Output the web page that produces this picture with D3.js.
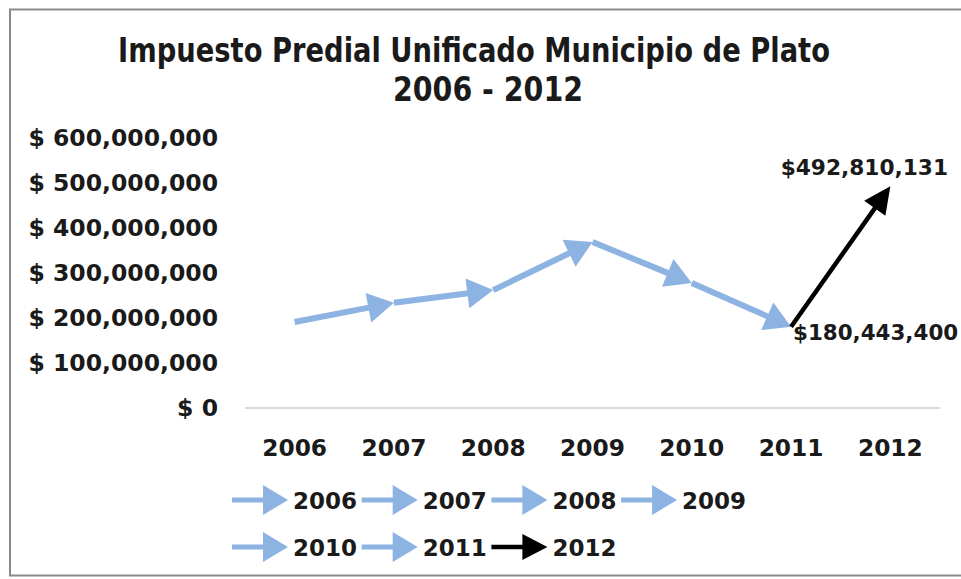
<!DOCTYPE html>
<html>
<head>
<meta charset="utf-8">
<script src="https://cdn.jsdelivr.net/npm/d3@7"></script>
<style>
  html, body { margin: 0; padding: 0; background: #ffffff; }
  svg { display: block; }
</style>
</head>
<body>
<svg id="chart" width="961" height="579"></svg>
<script>
// ---- data ----
const years = ["2006", "2007", "2008", "2009", "2010", "2011", "2012"];
const values = [191000000, 234000000, 262000000, 369000000, 278000000, 180443400, 492810131];
const yTickValues = [0, 100000000, 200000000, 300000000, 400000000, 500000000, 600000000];
const seriesColors = ["#8DB3E2", "#8DB3E2", "#8DB3E2", "#8DB3E2", "#8DB3E2", "#8DB3E2", "#000000"];
const titleLines = ["Impuesto Predial Unificado Municipio de Plato", "2006 - 2012"];
const labelledYears = ["2011", "2012"];

// ---- layout ----
const svg = d3.select("#chart");
const W = 961, H = 579;
const plot = { left: 245, right: 940, top: 138, bottom: 408 };
const boldFont = "'DejaVu Sans', Verdana, sans-serif";
const titleFont = "'Liberation Sans Narrow', 'DejaVu Sans Condensed', 'Liberation Sans', sans-serif";

svg.append("rect").attr("width", W).attr("height", H).attr("fill", "#ffffff");
// chart frame
svg.append("rect")
  .attr("x", 10).attr("y", 9.5).attr("width", 960).attr("height", 566)
  .attr("fill", "#ffffff").attr("stroke", "#8a8a8a").attr("stroke-width", 2);

// title
const titleCfg = [
  { cx: 474, y: 62, len: 712 },
  { cx: 488, y: 101, len: 190 }
];
titleLines.forEach((t, i) => {
  svg.append("text")
    .attr("x", titleCfg[i].cx).attr("y", titleCfg[i].y)
    .attr("text-anchor", "middle")
    .attr("font-family", titleFont).attr("font-weight", "bold")
    .attr("font-size", 33).attr("fill", "#1a1a1a")
    .attr("textLength", titleCfg[i].len).attr("lengthAdjust", "spacingAndGlyphs")
    .text(t);
});

// scales
const x = d3.scaleBand().domain(years).range([plot.left, plot.right]);
const y = d3.scaleLinear().domain([0, 600000000]).range([plot.bottom, plot.top]);
const cx = d => x(d) + x.bandwidth() / 2;

// y axis
const yAxis = d3.axisLeft(y).tickValues(yTickValues).tickSize(0).tickPadding(27)
  .tickFormat(d => "$ " + d3.format(",")(d));
const gy = svg.append("g").attr("transform", `translate(${plot.left},0)`).call(yAxis);
gy.select(".domain").remove();
gy.selectAll("text").attr("font-family", boldFont).attr("font-weight", "bold")
  .attr("font-size", 23.5).attr("fill", "#1a1a1a");

// x axis
const xAxis = d3.axisBottom(x).tickSize(0).tickPadding(31);
const gx = svg.append("g").attr("transform", `translate(0,${plot.bottom})`).call(xAxis);
gx.select(".domain").remove();
gx.selectAll("text").attr("font-family", boldFont).attr("font-weight", "bold")
  .attr("font-size", 23.3).attr("fill", "#1a1a1a");

svg.append("line")
  .attr("x1", plot.left).attr("x2", plot.right)
  .attr("y1", y(0)).attr("y2", y(0))
  .attr("stroke", "#D9D9D9").attr("stroke-width", 2);

// arrow helper
function arrow(g, x1, y1, x2, y2, color, sw, L, hw) {
  const dx = x2 - x1, dy = y2 - y1;
  const len = Math.sqrt(dx * dx + dy * dy);
  const ux = dx / len, uy = dy / len;
  const nx = -uy, ny = ux;
  const bx = x2 - ux * L, by = y2 - uy * L;
  g.append("line")
    .attr("x1", x1).attr("y1", y1)
    .attr("x2", bx + ux * 3).attr("y2", by + uy * 3)
    .attr("stroke", color).attr("stroke-width", sw);
  g.append("polygon")
    .attr("points", [[x2, y2], [bx + nx * hw, by + ny * hw], [bx - nx * hw, by - ny * hw]]
      .map(p => p.join(",")).join(" "))
    .attr("fill", color);
}

// series segments: each year's series ends with an arrowhead at its point
const gLines = svg.append("g");
years.forEach((yr, i) => {
  if (i === 0) return;
  const black = seriesColors[i] === "#000000";
  arrow(gLines, cx(years[i - 1]), y(values[i - 1]), cx(yr), y(values[i]),
    seriesColors[i], black ? 4.5 : 6, black ? 27 : 26, black ? 13 : 15);
});

// data labels
const fmt = v => "$" + d3.format(",")(v);
const i11 = years.indexOf(labelledYears[0]);
const i12 = years.indexOf(labelledYears[1]);
svg.append("text")
  .attr("x", cx(years[i12]) - 26).attr("y", y(values[i12]) - 11)
  .attr("text-anchor", "middle")
  .attr("font-family", boldFont).attr("font-weight", "bold")
  .attr("font-size", 21.7).attr("fill", "#1a1a1a")
  .text(fmt(values[i12]));
svg.append("text")
  .attr("x", cx(years[i11]) + 2).attr("y", y(values[i11]) + 13)
  .attr("text-anchor", "start")
  .attr("font-family", boldFont).attr("font-weight", "bold")
  .attr("font-size", 21.4).attr("fill", "#1a1a1a")
  .text(fmt(values[i11]));

// legend
const legend = svg.append("g");
const legX0 = 232, legStep = 129.7, rowY = [500, 547], perRow = 4;
years.forEach((yr, i) => {
  const row = Math.floor(i / perRow), col = i % perRow;
  const lx = legX0 + col * legStep, ly = rowY[row];
  const black = seriesColors[i] === "#000000";
  arrow(legend, lx, ly, lx + 56, ly, seriesColors[i], black ? 4.5 : 5, black ? 25 : 25, black ? 13 : 15);
  legend.append("text")
    .attr("x", lx + 61).attr("y", ly + 8.5)
    .attr("font-family", boldFont).attr("font-weight", "bold")
    .attr("font-size", 23).attr("fill", "#1a1a1a")
    .text(yr);
});
</script>
</body>
</html>
